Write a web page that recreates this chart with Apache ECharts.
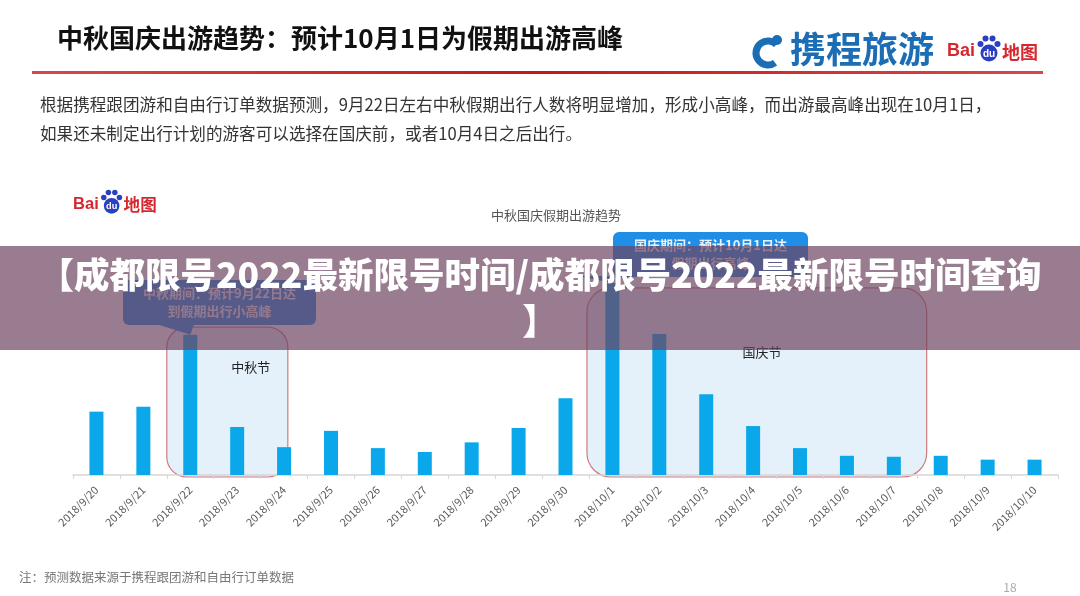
<!DOCTYPE html>
<html>
<head>
<meta charset="utf-8">
<script src="https://cdn.jsdelivr.net/npm/echarts@6/dist/echarts.min.js"></script>
<style>
  html, body { margin: 0; padding: 0; background: #fff; }
  #chart { width: 1080px; height: 596px; }
</style>
</head>
<body>
<div id="chart"></div>
<script>
// daily travel index (10/1 = 100)
var categories = ['2018/9/20', '2018/9/21', '2018/9/22', '2018/9/23', '2018/9/24', '2018/9/25', '2018/9/26',
    '2018/9/27', '2018/9/28', '2018/9/29', '2018/9/30', '2018/10/1', '2018/10/2', '2018/10/3',
    '2018/10/4', '2018/10/5', '2018/10/6', '2018/10/7', '2018/10/8', '2018/10/9', '2018/10/10'];
var tripIndex = [33, 35.5, 73, 25, 14.5, 23, 14, 12, 17, 24.5, 40, 100, 73.5, 42, 25.5, 14, 10, 9.5, 10, 8, 8];

var midAutumn = ['2018/9/22', '2018/9/24'];
var nationalDay = ['2018/10/1', '2018/10/7'];

var pageTitle = '中秋国庆出游趋势：预计10月1日为假期出游高峰';
var bodyLines = [
    '根据携程跟团游和自由行订单数据预测，9月22日左右中秋假期出行人数将明显增加，形成小高峰，而出游最高峰出现在10月1日，',
    '如果还未制定出行计划的游客可以选择在国庆前，或者10月4日之后出行。'
];
var chartTitle = '中秋国庆假期出游趋势';
var noteText = '注：预测数据来源于携程跟团游和自由行订单数据';
var bannerText = '【成都限号2022最新限号时间/成都限号2022最新限号时间查询\n】';

var FONT = '"Noto Sans CJK SC", "Noto Sans", sans-serif';
var BAR_COLOR = '#0aa8ea';

var myChart = echarts.init(document.getElementById('chart'), null, {renderer: 'canvas'});

var option = {
    backgroundColor: '#ffffff',
    animation: false,
    textStyle: {fontFamily: FONT},
    grid: {left: 73, right: 22, top: 283, bottom: 121},
    xAxis: {
        type: 'category',
        data: categories,
        axisLine: {lineStyle: {color: '#d6d6d6', width: 1.5}},
        axisTick: {show: true, length: 4, lineStyle: {color: '#d6d6d6'}},
        axisLabel: {rotate: 45, fontSize: 11, color: '#5a5a5a', margin: 13, fontFamily: FONT}
    },
    yAxis: {
        type: 'value',
        min: 0,
        max: 100,
        show: false,
        splitLine: {show: false}
    },
    series: [{
        type: 'bar',
        data: tripIndex,
        barWidth: 14,
        z: 5,
        itemStyle: {color: BAR_COLOR}
    }]
};
myChart.setOption(option);

function px(cat, val) {
    return myChart.convertToPixel({gridIndex: 0}, [cat, val]);
}
var band = px(categories[1], 0)[0] - px(categories[0], 0)[0];

// highlight boxes behind the holiday bars
var base = px(categories[0], 0)[1];
var maL = px(midAutumn[0], 0)[0] - band / 2;
var maR = px(midAutumn[1], 0)[0] + band * 0.08;
var maT = px(midAutumn[0], 77)[1];
var ndL = px(nationalDay[0], 0)[0] - band / 2 - 2;
var ndR = px(nationalDay[1], 0)[0] + band * 0.7;
var ndT = px(nationalDay[0], 97.5)[1];

var maTip = px(midAutumn[0], 73);
var ndTip = px(nationalDay[0], 100);

function callout(x, y, w, h, tip, lines) {
    return [{
        type: 'rect', z: 60,
        shape: {x: x, y: y, width: w, height: h, r: 6},
        style: {fill: '#1f8ee6'}
    }, {
        type: 'polygon', z: 60,
        shape: {points: [[tip[0] - 34, y + h - 1], [tip[0] + 4, y + h - 1], [tip[0], tip[1]]]},
        style: {fill: '#1f8ee6'}
    }, {
        type: 'text', z: 61,
        x: x + w / 2, y: y + h / 2,
        style: {
            text: lines, fill: '#e9f2fb', font: 'bold 13px ' + FONT,
            align: 'center', verticalAlign: 'middle', lineHeight: 18
        }
    }];
}

function baiduLogo(x, y, s) {
    var blue = '#2a3fc2', red = '#d7272e';
    return [{
        type: 'text', z: 20, x: x, y: y,
        style: {text: 'Bai', fill: red, font: 'bold ' + (18 * s) + 'px Arial, sans-serif', verticalAlign: 'middle'}
    }, {
        type: 'circle', z: 20,
        shape: {cx: x + 42 * s, cy: y + 2 * s, r: 8.5 * s},
        style: {fill: blue}
    }, {
        type: 'circle', z: 20, shape: {cx: x + 33.5 * s, cy: y - 7 * s, r: 3 * s}, style: {fill: blue}
    }, {
        type: 'circle', z: 20, shape: {cx: x + 38.5 * s, cy: y - 12.5 * s, r: 3 * s}, style: {fill: blue}
    }, {
        type: 'circle', z: 20, shape: {cx: x + 45.5 * s, cy: y - 12.5 * s, r: 3 * s}, style: {fill: blue}
    }, {
        type: 'circle', z: 20, shape: {cx: x + 50.5 * s, cy: y - 7 * s, r: 3 * s}, style: {fill: blue}
    }, {
        type: 'text', z: 21, x: x + 42 * s, y: y + 3 * s,
        style: {text: 'du', fill: '#fff', font: 'bold ' + (10 * s) + 'px Arial, sans-serif', align: 'center', verticalAlign: 'middle'}
    }, {
        type: 'text', z: 20, x: x + 55 * s, y: y + 1 * s,
        style: {text: '地图', fill: red, font: 'bold ' + (18 * s) + 'px ' + FONT, verticalAlign: 'middle'}
    }];
}

var graphics = [
    // page header
    {type: 'text', z: 20, x: 57, y: 38,
        style: {text: pageTitle, fill: '#111', font: 'bold 26px ' + FONT, verticalAlign: 'middle'}},
    {type: 'rect', z: 20, shape: {x: 32, y: 71, width: 1011, height: 3},
        style: {fill: new echarts.graphic.LinearGradient(0, 0, 1, 0, [
            {offset: 0, color: '#d9474c'}, {offset: 0.5, color: '#c4161c'}, {offset: 1, color: '#d9474c'}])}},
    {type: 'arc', z: 20, shape: {cx: 768, cy: 53, r: 12, startAngle: Math.PI * 0.3, endAngle: Math.PI * 1.75},
        style: {stroke: '#1b6db5', lineWidth: 7, fill: null}},
    {type: 'circle', z: 20, shape: {cx: 777, cy: 40, r: 5}, style: {fill: '#1b6db5'}},
    {type: 'text', z: 20, x: 790, y: 49,
        style: {text: '携程旅游', fill: '#1b6db5', font: 'bold 36px ' + FONT, verticalAlign: 'middle'}},
    // body text
    {type: 'text', z: 20, x: 40, y: 105,
        style: {text: bodyLines[0], fill: '#333', font: '16.6px ' + FONT, verticalAlign: 'middle'}},
    {type: 'text', z: 20, x: 40, y: 134,
        style: {text: bodyLines[1], fill: '#333', font: '16.6px ' + FONT, verticalAlign: 'middle'}},
    // chart heading
    {type: 'text', z: 20, x: 556, y: 215,
        style: {text: chartTitle, fill: '#555', font: '13px ' + FONT, align: 'center', verticalAlign: 'middle'}},
    // highlight regions
    {type: 'rect', z: 0, shape: {x: maL, y: maT, width: maR - maL, height: base - maT + 2, r: 20},
        style: {fill: '#e4f1fb', stroke: '#cf7a80', lineWidth: 1.2}},
    {type: 'rect', z: 0, shape: {x: ndL, y: ndT, width: ndR - ndL, height: base - ndT + 2, r: 24},
        style: {fill: '#e4f1fb', stroke: '#cf7a80', lineWidth: 1.2}},
    {type: 'text', z: 20, x: maL + 84, y: 367,
        style: {text: '中秋节', fill: '#222', font: '13px ' + FONT, align: 'center', verticalAlign: 'middle'}},
    {type: 'text', z: 20, x: 762, y: 352,
        style: {text: '国庆节', fill: '#222', font: '13px ' + FONT, align: 'center', verticalAlign: 'middle'}},
    // footer
    {type: 'text', z: 20, x: 19, y: 577,
        style: {text: noteText, fill: '#777', font: '12.5px ' + FONT, verticalAlign: 'middle'}},
    {type: 'text', z: 20, x: 1010, y: 587,
        style: {text: '18', fill: '#aaa', font: '12px ' + FONT, align: 'center', verticalAlign: 'middle'}},
    // overlay banner
    {type: 'rect', z: 200, shape: {x: 0, y: 246, width: 1080, height: 104},
        style: {fill: 'rgba(110, 68, 95, 0.7)'}},
    {type: 'text', z: 201, x: 540, y: 298,
        style: {text: bannerText, fill: '#ffffff', font: '900 35.5px ' + FONT,
            align: 'center', verticalAlign: 'middle', lineHeight: 46}}
];

graphics = graphics
    .concat(callout(123, 280, 193, 45, maTip, '中秋期间：预计9月22日达\n到假期出行小高峰'))
    .concat(callout(613, 232, 195, 45, ndTip, '国庆期间：预计10月1日达\n假期出行高峰'))
    .concat(baiduLogo(947, 51, 1))
    .concat(baiduLogo(73, 204, 0.92));

myChart.setOption({graphic: {elements: graphics}});
</script>
</body>
</html>
